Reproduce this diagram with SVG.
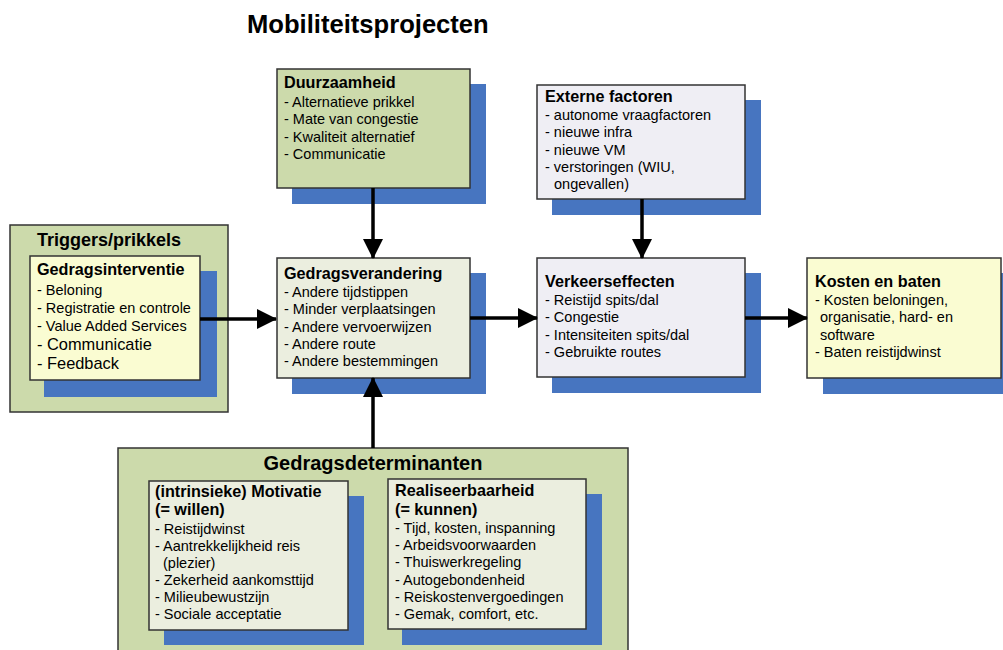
<svg xmlns="http://www.w3.org/2000/svg" width="1003" height="650" viewBox="0 0 1003 650">
<style>
text{font-family:"Liberation Sans",Arial,sans-serif;fill:#000;}
.t{font-size:14.5px;}
.tb{font-size:16.2px;font-weight:bold;}
.tl{font-size:16.4px;}
.h{font-size:18px;font-weight:bold;}
.sh{fill:#4775C0;}
.box{stroke:#333;stroke-width:1.5;}
.green{fill:#CCDAAB;}
.yel{fill:#FAFCD2;}
.lg{fill:#EBEEDF;}
.lav{fill:#EFEEF4;}
.conn{stroke:#000;stroke-width:3.5;fill:none;}
</style>
<defs>
<marker id="ah" markerUnits="userSpaceOnUse" markerWidth="20" markerHeight="20" refX="19" refY="10" orient="auto">
<path d="M0,0 L20,10 L0,20 Z" fill="#000"/>
</marker>
</defs>
<rect width="1003" height="650" fill="#fff"/>
<text x="247" y="33" style="font-size:25.6px;font-weight:bold">Mobiliteitsprojecten</text>

<g id="duurzaamheid">
<rect class="sh" x="292" y="84" width="194" height="120"/>
<rect class="box green" x="277" y="69" width="193" height="119"/>
<text class="tb" x="284" y="88">Duurzaamheid</text>
<text class="t" x="284" y="107">- Alternatieve prikkel</text>
<text class="t" x="284" y="124">- Mate van congestie</text>
<text class="t" x="284" y="142">- Kwaliteit alternatief</text>
<text class="t" x="284" y="159">- Communicatie</text>
</g>

<g id="externe-factoren">
<rect class="sh" x="552" y="100" width="209" height="115"/>
<rect class="box lav" x="537" y="85" width="208" height="114"/>
<text class="tb" x="545" y="102">Externe factoren</text>
<text class="t" x="545" y="120">- autonome vraagfactoren</text>
<text class="t" x="545" y="137">- nieuwe infra</text>
<text class="t" x="545" y="155">- nieuwe VM</text>
<text class="t" x="545" y="172">- verstoringen (WIU,</text>
<text class="t" x="554" y="189">ongevallen)</text>
</g>

<g id="triggers">
<rect class="box green" x="10" y="225" width="218" height="187"/>
<text class="h" x="37" y="246">Triggers/prikkels</text>
<rect class="sh" x="44" y="271" width="173" height="126"/>
<rect class="box yel" x="30" y="256" width="170" height="124"/>
<text class="tb" x="37" y="275">Gedragsinterventie</text>
<text class="t" x="37" y="295">- Beloning</text>
<text class="t" x="37" y="313">- Registratie en controle</text>
<text class="t" x="37" y="331">- Value Added Services</text>
<text class="tl" x="37" y="350">- Communicatie</text>
<text class="tl" x="37" y="369">- Feedback</text>
</g>

<g id="gedragsverandering">
<rect class="sh" x="292" y="273" width="194" height="121"/>
<rect class="box lg" x="277" y="258" width="193" height="120"/>
<text class="tb" x="284" y="279">Gedragsverandering</text>
<text class="t" x="284" y="297">- Andere tijdstippen</text>
<text class="t" x="284" y="314">- Minder verplaatsingen</text>
<text class="t" x="284" y="332">- Andere vervoerwijzen</text>
<text class="t" x="284" y="349">- Andere route</text>
<text class="t" x="284" y="366">- Andere bestemmingen</text>
</g>

<g id="verkeerseffecten">
<rect class="sh" x="552" y="273" width="209" height="120"/>
<rect class="box lav" x="537" y="258" width="208" height="119"/>
<text class="tb" x="545" y="287">Verkeerseffecten</text>
<text class="t" x="545" y="305">- Reistijd spits/dal</text>
<text class="t" x="545" y="322">- Congestie</text>
<text class="t" x="545" y="340">- Intensiteiten spits/dal</text>
<text class="t" x="545" y="357">- Gebruikte routes</text>
</g>

<g id="kosten-baten">
<rect class="sh" x="823" y="273" width="195" height="121"/>
<rect class="box yel" x="807" y="258" width="194" height="120"/>
<text class="tb" x="815" y="287">Kosten en baten</text>
<text class="t" x="815" y="305">- Kosten beloningen,</text>
<text class="t" x="820" y="322">organisatie, hard- en</text>
<text class="t" x="820" y="340">software</text>
<text class="t" x="815" y="357">- Baten reistijdwinst</text>
</g>

<g id="gedragsdeterminanten">
<rect class="box green" x="118" y="448" width="510" height="215"/>
<text x="373" y="470" text-anchor="middle" style="font-size:20px;font-weight:bold">Gedragsdeterminanten</text>
</g>

<g id="motivatie">
<rect class="sh" x="164" y="496" width="200" height="149"/>
<rect class="box lg" x="149" y="481" width="199" height="149"/>
<text class="tb" x="155" y="497">(intrinsieke) Motivatie</text>
<text class="tb" x="155" y="515">(= willen)</text>
<text class="t" x="155" y="534">- Reistijdwinst</text>
<text class="t" x="155" y="551">- Aantrekkelijkheid reis</text>
<text class="t" x="163" y="568">(plezier)</text>
<text class="t" x="155" y="585">- Zekerheid aankomsttijd</text>
<text class="t" x="155" y="602">- Milieubewustzijn</text>
<text class="t" x="155" y="619">- Sociale acceptatie</text>
</g>

<g id="realiseerbaarheid">
<rect class="sh" x="402" y="494" width="200" height="151"/>
<rect class="box lg" x="388" y="479" width="198" height="150"/>
<text class="tb" x="395" y="496">Realiseerbaarheid</text>
<text class="tb" x="395" y="515">(= kunnen)</text>
<text class="t" x="395" y="533">- Tijd, kosten, inspanning</text>
<text class="t" x="395" y="550">- Arbeidsvoorwaarden</text>
<text class="t" x="395" y="567">- Thuiswerkregeling</text>
<text class="t" x="395" y="585">- Autogebondenheid</text>
<text class="t" x="395" y="602">- Reiskostenvergoedingen</text>
<text class="t" x="395" y="619">- Gemak, comfort, etc.</text>
</g>

<g id="connectors">
<line class="conn" x1="373" y1="188" x2="373" y2="258" marker-end="url(#ah)"/>
<line class="conn" x1="642" y1="199" x2="642" y2="258" marker-end="url(#ah)"/>
<line class="conn" x1="200" y1="319" x2="276" y2="319" marker-end="url(#ah)"/>
<line class="conn" x1="470" y1="318" x2="537" y2="318" marker-end="url(#ah)"/>
<line class="conn" x1="745" y1="318" x2="807" y2="318" marker-end="url(#ah)"/>
<line class="conn" x1="373" y1="448" x2="373" y2="378" marker-end="url(#ah)"/>
</g>
</svg>
